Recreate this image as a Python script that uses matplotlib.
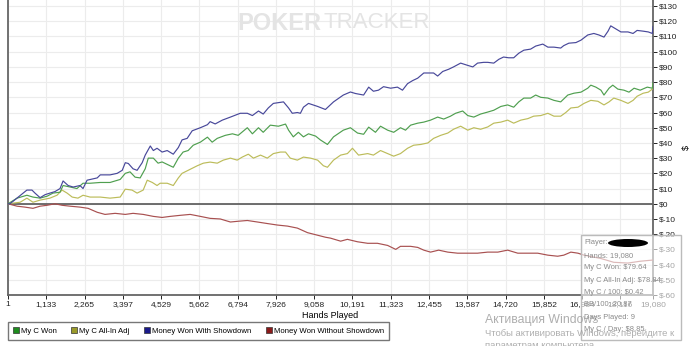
import matplotlib.pyplot as plt
from matplotlib.lines import Line2D
from matplotlib.patches import Rectangle, Ellipse

# hands played / dollars
blue_x = [1, 60, 560, 710, 800, 950, 1100, 1240, 1390, 1540, 1630, 1780, 1930, 2130, 2220, 2340,
          2640, 2730, 3020, 3230, 3380, 3470, 3560, 3700, 3820, 3970, 4060, 4210, 4300, 4410, 4560,
          4710, 4890, 5040, 5150, 5300, 5450, 5690, 5900, 5980, 6130, 6340, 6580, 6870, 7080, 7230,
          7410, 7550, 7700, 7850, 8150, 8300, 8410, 8560, 8650, 8740, 8890, 9160, 9390, 9630, 9920,
          10130, 10280, 10520, 10670, 10810, 10960, 11110, 11320, 11520, 11670, 11820, 11970, 12120,
          12300, 12590, 12710, 12860, 13040, 13180, 13390, 13600, 13750, 13890, 14070, 14190, 14370,
          14520, 14660, 14810, 14960, 15110, 15260, 15460, 15610, 15820, 15970, 16150, 16350, 16440,
          16590, 16800, 16950, 17150, 17330, 17480, 17630, 17750, 17830, 17980, 18130, 18340, 18490,
          18610, 18790, 18940, 19060, 19080]
blue_y = [0, 0, 9, 9, 7, 4, 6, 7, 8, 10, 15, 12, 11, 12, 10, 15.5,
          17, 19, 19, 20, 22, 27, 26.5, 23, 22, 27, 32, 38, 35, 36.5, 34,
          35, 32.6, 37, 42, 43, 48, 50, 52, 54, 52.5, 55, 57, 59.5, 59.5, 58,
          61, 59, 63, 66, 67, 63, 59.5, 60, 59.5, 63.5, 66, 64, 62, 67, 71.5,
          73.5, 72.5, 71.5, 76.7, 74, 74.7, 77, 76, 76.7, 74.7, 79, 81, 82.6,
          86, 86, 84, 87, 88.5, 90, 92.5, 91, 90, 92.5, 93, 93, 92.5,
          95, 96.5, 96, 96, 99, 101, 101.7, 103.7, 105, 103, 103, 102.4, 104,
          105.6, 106, 107.6, 111, 112, 111, 109.6, 113.5, 117, 115, 113, 113, 112,
          114, 113.5, 113, 112, 116.6]

green_x = [1, 270, 560, 740, 950, 1160, 1330, 1540, 1630, 1840, 2040, 2220, 2430, 2730, 3020,
           3320, 3470, 3610, 3760, 3910, 4060, 4150, 4300, 4440, 4560, 4890, 5040, 5180, 5330,
           5480, 5690, 5900, 6040, 6190, 6430, 6640, 6810, 7080, 7230, 7410, 7550, 7760, 8000,
           8210, 8300, 8440, 8590, 8740, 8890, 9100, 9240, 9450, 9630, 9920, 10130, 10340, 10520,
           10670, 10870, 11020, 11230, 11410, 11610, 11760, 11910, 12120, 12300, 12500, 12710,
           12890, 13090, 13240, 13450, 13600, 13780, 13980, 14190, 14370, 14580, 14780, 14960,
           15110, 15260, 15460, 15610, 15760, 15970, 16150, 16350, 16560, 16740, 16950, 17150,
           17240, 17390, 17540, 17630, 17780, 17890, 18040, 18220, 18370, 18520, 18700, 18910,
           19060, 19080]
green_y = [0, 3.7, 5.6, 4.4, 3.7, 5, 7, 7.6, 12, 11, 10, 13.5, 13.5, 14, 14,
           16, 20, 21, 17.5, 17, 23, 30, 30, 26.7, 27.5, 24, 30, 34, 35,
           38.5, 40.5, 43.8, 40.5, 43, 45, 46, 45, 50, 46, 50, 47, 51.7, 51,
           52.4, 48.4, 44, 47, 44, 46, 44.5, 42, 39, 44, 48.4, 50, 46.5, 45.7,
           50.4, 47, 51, 48.4, 47, 50, 48.4, 51.7, 53, 53.7, 55, 57,
           55.7, 57.6, 59.5, 61, 58, 57, 59, 60.3, 61.5, 64, 65, 63.5,
           67, 69.5, 69.5, 71.5, 70, 69.5, 68, 67, 71.5, 72.7, 73.4, 76,
           78, 76.7, 74.7, 71.5, 76, 78, 75.4, 74.7, 73.4, 76, 74.7, 76.7,
           76, 79.64]

olive_x = [1, 360, 560, 740, 950, 1240, 1450, 1600, 1750, 1900, 2070, 2220, 2430, 2730, 3020,
           3320, 3470, 3670, 3820, 4000, 4120, 4270, 4410, 4500, 4710, 4890, 5040, 5150, 5330,
           5600, 5780, 5980, 6190, 6370, 6580, 6780, 6930, 7110, 7260, 7470, 7670, 7850, 8060,
           8210, 8350, 8560, 8740, 8950, 9160, 9330, 9450, 9630, 9840, 10040, 10190, 10370, 10640,
           10810, 11020, 11230, 11410, 11610, 11820, 12000, 12210, 12420, 12590, 12800, 13010,
           13180, 13390, 13600, 13780, 13980, 14190, 14370, 14580, 14780, 14960, 15170, 15380,
           15550, 15760, 15970, 16150, 16350, 16500, 16650, 16860, 17040, 17240, 17450, 17630,
           17780, 17920, 18130, 18340, 18490, 18610, 18790, 18940, 19060, 19080]
olive_y = [0, 1, 3.7, 1, 2.4, 3.7, 5.6, 9, 7, 4.4, 3.7, 5.6, 4.4, 4.4, 3.7,
           4.4, 9.6, 9, 7, 9, 15.5, 14, 12, 13.5, 13.5, 12, 17, 20, 22,
           25, 26.7, 27.4, 26.7, 28.7, 30, 28.7, 30.7, 32.6, 30, 32, 30, 33, 34,
           34, 30, 28.7, 30.7, 30, 28.7, 25, 24, 28.7, 32, 33, 36.5, 32, 33,
           32, 35, 33, 31.3, 33, 36.5, 38.5, 39, 40, 43, 45, 46.5,
           49, 51, 48.4, 50, 49, 50.5, 53, 53.7, 55, 53, 55, 56,
           57.6, 58, 59.5, 57.6, 57.6, 60, 63, 63.5, 66, 68, 67.4, 65,
           67, 69.5, 68, 66, 68, 70.7, 72.7, 73.4, 75.4, 78.8]

red_x = [1, 270, 500, 740, 950, 1160, 1390, 1600, 1840, 2130, 2370, 2640, 2870, 3170, 3470,
         3700, 4000, 4300, 4560, 4800, 5100, 5390, 5690, 5980, 6280, 6580, 6810, 7080, 7380,
         7670, 7970, 8270, 8560, 8860, 9160, 9390, 9540, 9840, 10040, 10340, 10640, 10930, 11230,
         11470, 11610, 11910, 12120, 12300, 12500, 12740, 13010, 13300, 13600, 13890, 14190,
         14490, 14780, 15080, 15380, 15670, 15970, 16260, 16440, 16650, 16860, 17040, 17540,
         17920, 18340, 18700, 19080]
red_y = [0, -1.6, -2.2, -3, -1.6, -1, 0, -1, -1.6, -2.2, -3, -5.6, -7, -6.3, -7,
         -6.3, -7, -8.3, -9, -8.3, -7.6, -7, -8.3, -9.6, -10, -12, -11.5, -11, -12,
         -13, -14, -14.7, -16, -19, -20.7, -22, -22.6, -24.6, -23.4, -25, -26, -26, -27.4,
         -30, -28, -28, -28.7, -30.5, -31.8, -30.5, -31.8, -32.5, -32.5, -32.5, -31.8,
         -31.8, -30.5, -32.5, -32.5, -32.5, -33.8, -34.5, -33.8, -31.8, -32.5, -33.8, -36,
         -38.5, -39, -37.8, -37]

x_ticks = [1, 1133, 2265, 3397, 4529, 5662, 6794, 7926, 9058, 10191, 11323, 12455,
           13587, 14720, 15852, 16984, 18116, 19080]
y_ticks = list(range(-60, 131, 10))

names = ['My C Won', 'My C All-In Adj', 'Money Won With Showdown', 'Money Won Without Showdown']
line_cols = ['#4f9f4f', '#bcbc5a', '#48489a', '#a85050']
box_cols = ['#1e8c1e', '#9a9a2a', '#1a1a8a', '#8a1a1a']

plt.rcParams['font.family'] = ['Liberation Sans', 'DejaVu Sans']

fig = plt.figure(figsize=(7, 3.46), dpi=100)
ax = fig.add_axes([8/700, 51/346, 645/700, 295/346])

ax.plot(red_x, red_y, color=line_cols[3], lw=0.85, zorder=3)
ax.plot(olive_x, olive_y, color=line_cols[1], lw=0.85, zorder=3)
ax.plot(green_x, green_y, color=line_cols[0], lw=0.85, zorder=4)
ax.plot(blue_x, blue_y, color=line_cols[2], lw=0.85, zorder=5)
ax.axhline(0, color='#555555', lw=1.2, zorder=2)

ax.set_xlim(1, 19080)
ax.set_ylim(-60, 134)
ax.set_xticks(x_ticks)
ax.set_xticklabels([f'{v:,}' for v in x_ticks])
ax.set_yticks(y_ticks)
ax.set_yticklabels([f'${v}' for v in y_ticks])
ax.yaxis.tick_right()
ax.grid(color='#ececec', lw=0.8, zorder=0)
ax.tick_params(labelsize=6, colors='#222222', length=3, width=0.7, pad=1.5)
for s in ['left', 'right', 'bottom']:
    ax.spines[s].set_color('#666666')
    ax.spines[s].set_linewidth(1.3)
ax.spines['top'].set_visible(False)

ax.set_xlabel('Hands Played', fontsize=6.5, labelpad=2)
ax.yaxis.set_label_position('right')
ax.set_ylabel('$', fontsize=6.5, rotation=90)
ax.yaxis.set_label_coords((682 - 8) / 645, 0.5)

handles = [Line2D([], [], marker='s', ls='', ms=5, mfc=c, mec='#333333', mew=0.5) for c in box_cols]
leg = fig.legend(handles, names, loc='lower left', bbox_to_anchor=(8/700, 6/346), ncol=4,
                 fontsize=5.6, frameon=True, fancybox=False, edgecolor='#555555',
                 handlelength=0.7, handletextpad=0.3, columnspacing=1.9, borderpad=0.65,
                 borderaxespad=0)
leg.get_frame().set_linewidth(1.0)

# watermark
fig.text(237/700, 1 - 23/346, 'POKER', fontsize=17, weight='bold', color='#e4e4e4', va='center')
fig.text(323/700, 1 - 23/346, 'TRACKER', fontsize=16, color='#e4e4e4', va='center')

# hover tooltip
fig.patches.append(Rectangle((581/700, 6/346), 100/700, 105/346, transform=fig.transFigure,
                             facecolor='white', alpha=0.6, edgecolor='none', zorder=10))
fig.patches.append(Rectangle((581/700, 6/346), 100/700, 105/346, transform=fig.transFigure,
                             facecolor='none', edgecolor='#bbbbbb', lw=1, zorder=11))
tip = ['Player:', 'Hands: 19,080', 'My C Won: $79.64', 'My C All-In Adj: $78.84',
       'My C / 100: $0.42', 'BB/100: 20.87', 'Days Played: 9', 'My C / Day: $8.85']
for i, t in enumerate(tip):
    fig.text(584/700, 1 - (243 + i * 12.4) / 346, t, fontsize=5.4, color='#8a8a8a', va='center',
             zorder=12)
fig.patches.append(Ellipse((628/700, 1 - 243/346), 40/700, 8/346, transform=fig.transFigure,
                           facecolor='black', edgecolor='none', zorder=13))

# windows activation overlay
fig.text(485/700, 1 - 320/346, 'Активация Windows', fontsize=8.8, color='#9a9a9a', alpha=0.8,
         va='center', zorder=14)
fig.text(485/700, 1 - 333/346, 'Чтобы активировать Windows, перейдите к', fontsize=6.8,
         color='#9a9a9a', alpha=0.8, va='center', zorder=14)
fig.text(485/700, 1 - 345/346, 'параметрам компьютера.', fontsize=6.8, color='#9a9a9a',
         alpha=0.8, va='center', zorder=14)

fig.savefig('out.png', dpi=100)
